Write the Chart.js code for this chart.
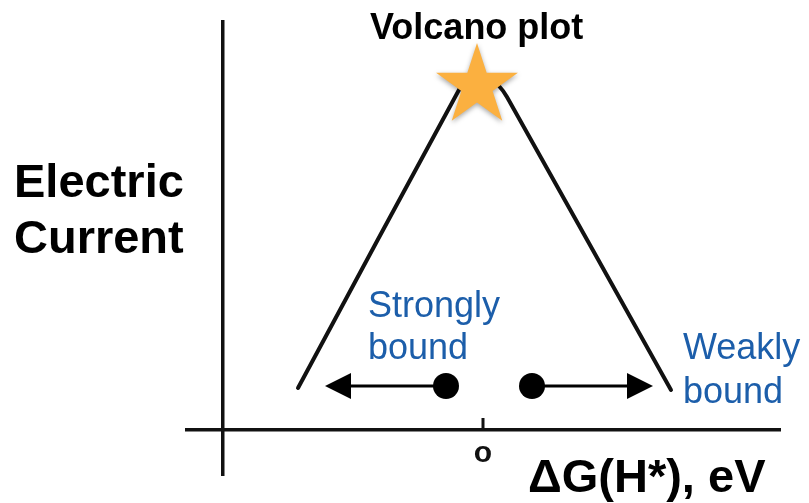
<!DOCTYPE html>
<html>
<head>
<meta charset="utf-8">
<script src="https://cdn.jsdelivr.net/npm/chart.js@4.4.1/dist/chart.umd.min.js"></script>
<style>
  html, body { margin: 0; padding: 0; background: #fff; overflow: hidden; }
  #wrap { width: 809px; height: 503px; position: relative; }
</style>
</head>
<body>
<div id="wrap"><canvas id="volcano"></canvas></div>
<script>
// Volcano plot schematic: current vs. hydrogen adsorption free energy.

// axis ranges (eV on x, arbitrary current units on y)
const xRange = [-2.96, 2.97];
const yRange = [-0.45, 4.08];
const yAxisAt = -2.60;

// the volcano curve
const volcanoX = [-1.85, -0.23, -0.15, 0.07, 0.16, 0.24, 1.88];
const volcanoY = [0.42, 3.42, 3.50, 3.51, 3.44, 3.33, 0.40];

// the star at the top
const peakX = [-0.06];
const peakY = [3.44];

// binding-strength arrows: dot -> arrow tip
const dotX = [-0.37, 0.49];
const tipX = [-1.58, 1.70];
const arrowY = 0.44;

// single hand-drawn tick on the x axis
const tickValues = [0];
const tickLabels = ['o'];

const INK = '#111';
const BLUE = '#1c5eaa';
const STAR = '#fbb040';

function starImage(R, color) {
  const pad = 10;
  const size = Math.ceil(2 * R + 2 * pad);
  const c = document.createElement('canvas');
  c.width = size; c.height = size;
  const g = c.getContext('2d');
  const cx = size / 2, cy = size / 2;
  g.beginPath();
  for (let i = 0; i < 10; i++) {
    const r = i % 2 ? R * 0.382 : R;
    const a = -Math.PI / 2 + i * Math.PI / 5;
    g.lineTo(cx + r * Math.cos(a), cy + r * Math.sin(a));
  }
  g.closePath();
  g.shadowColor = 'rgba(0,0,0,0.35)';
  g.shadowBlur = 5;
  g.shadowOffsetY = 2;
  g.fillStyle = color;
  g.fill();
  return c;
}

// arrowhead pointing right, tip sits at the canvas centre
function arrowHead(len, half) {
  const c = document.createElement('canvas');
  c.width = 2 * len + 2; c.height = 2 * half + 2;
  const g = c.getContext('2d');
  const m = c.width / 2;
  g.beginPath();
  g.moveTo(m, half + 1);
  g.lineTo(m - len, 1);
  g.lineTo(m - len, 2 * half + 1);
  g.closePath();
  g.fillStyle = '#000';
  g.fill();
  return c;
}

const starImg = starImage(43, STAR);
const headImg = arrowHead(26, 13);

const textPlugin = {
  id: 'volcano-text',
  afterDraw(chart) {
    const ctx = chart.ctx;
    ctx.save();
    ctx.textAlign = 'left';
    ctx.textBaseline = 'alphabetic';
    ctx.fillStyle = '#000';
    ctx.font = 'bold 36px "Liberation Sans", Arial, sans-serif';
    ctx.fillText('Volcano plot', 370, 39);
    ctx.font = 'bold 47px "Liberation Sans", Arial, sans-serif';
    ctx.fillText('Electric', 14, 197);
    ctx.fillText('Current', 14, 253);
    ctx.fillText('ΔG(H*), eV', 528, 492);
    ctx.fillStyle = BLUE;
    ctx.font = '36px "Liberation Sans", Arial, sans-serif';
    ctx.fillText('Strongly', 368, 317);
    ctx.fillText('bound', 368, 359);
    ctx.fillText('Weakly', 683, 359);
    ctx.fillText('bound', 683, 403);
    ctx.restore();
  },
};

const zip = (xs, ys) => xs.map((x, i) => ({ x, y: Array.isArray(ys) ? ys[i] : ys }));

const datasets = [
  {
    label: 'Peak', data: zip(peakX, peakY),
    pointStyle: starImg, pointRadius: 43, order: 0,
  },
  {
    label: 'Volcano', data: zip(volcanoX, volcanoY), showLine: true,
    borderColor: INK, borderWidth: 4, pointRadius: 0,
    borderCapStyle: 'round', borderJoinStyle: 'round', tension: 0.25, order: 5,
  },
  {
    label: 'Tick', data: [{ x: tickValues[0], y: 0 }, { x: tickValues[0], y: 0.12 }], showLine: true,
    borderColor: INK, borderWidth: 3, pointRadius: 0, order: 6,
  },
  {
    label: 'Strong shaft', data: [{ x: dotX[0], y: arrowY }, { x: tipX[0] + 0.1, y: arrowY }], showLine: true,
    borderColor: '#000', borderWidth: 3, pointRadius: 0, order: 4,
  },
  {
    label: 'Weak shaft', data: [{ x: dotX[1], y: arrowY }, { x: tipX[1] - 0.1, y: arrowY }], showLine: true,
    borderColor: '#000', borderWidth: 3, pointRadius: 0, order: 4,
  },
  {
    label: 'Heads', data: zip(tipX, arrowY),
    pointStyle: headImg, rotation: [180, 0], pointRadius: 13, order: 2,
  },
  {
    label: 'Dots', data: zip(dotX, arrowY),
    pointStyle: 'circle', pointRadius: 13, backgroundColor: '#000', borderColor: '#000', borderWidth: 0, order: 1,
  },
];

new Chart(document.getElementById('volcano'), {
  type: 'scatter',
  data: { datasets },
  options: {
    responsive: true, maintainAspectRatio: false, animation: false, events: [],
    // big star/dot radii would otherwise inflate the padding
    layout: { autoPadding: false, padding: { left: 187, right: 29, top: 22, bottom: 28 } },
    scales: {
      x: {
        type: 'linear', min: xRange[0], max: xRange[1], position: { y: 0 },
        border: { color: INK, width: 3.5 },
        grid: { display: false },
        afterBuildTicks: s => { s.ticks = tickValues.map(v => ({ value: v })); },
        // axis crosses the plot, so it must not eat any layout space
        afterFit: s => { s.height = 0; s.paddingLeft = 0; s.paddingRight = 0; },
        ticks: {
          callback: (v, i) => tickLabels[i], color: INK, padding: -2, maxRotation: 0,
          font: { family: '"Liberation Sans", Arial, sans-serif', size: 30, weight: 'bold' },
        },
      },
      y: {
        type: 'linear', min: yRange[0], max: yRange[1], position: { x: yAxisAt },
        border: { color: INK, width: 3.5 },
        grid: { display: false },
        afterFit: s => { s.width = 0; s.paddingTop = 0; s.paddingBottom = 0; },
        ticks: { display: false },
      },
    },
    plugins: { legend: { display: false }, tooltip: { enabled: false } },
  },
  plugins: [textPlugin],
});
</script>
</body>
</html>
